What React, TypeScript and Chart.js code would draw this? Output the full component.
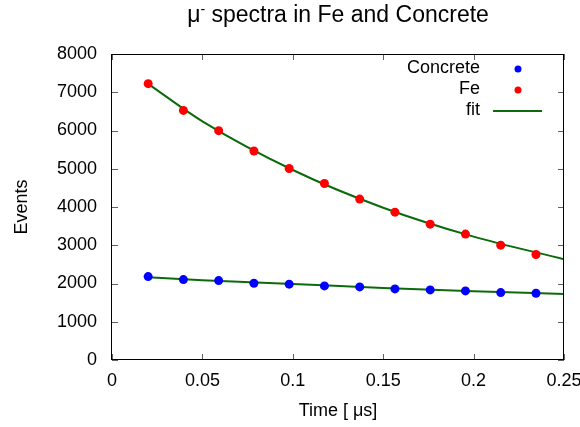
import React, { useEffect, useRef } from "react";
import { Chart, registerables } from "chart.js";

Chart.register(...registerables);

// ---- data ----
const times = [0.02, 0.0395, 0.059, 0.0785, 0.098, 0.1175, 0.137, 0.1565, 0.176, 0.1955, 0.215, 0.2345];
const concreteEvents = [2181, 2102, 2076, 2008, 1982, 1937, 1911, 1859, 1832, 1806, 1762, 1745];
const feEvents = [7225, 6526, 5995, 5463, 5008, 4615, 4207, 3866, 3552, 3291, 3003, 2757];
const fitTimes = [0.02, 0.05, 0.1, 0.15, 0.2, 0.25];
const feFit = [7220, 6240, 4968, 3982, 3225, 2636];
const concreteFit = [2165, 2085, 1985, 1885, 1800, 1728];
const xTicks = [0, 0.05, 0.1, 0.15, 0.2, 0.25];
const yTicks = [0, 1000, 2000, 3000, 4000, 5000, 6000, 7000, 8000];
const legendLabels = ["Concrete", "Fe", "fit"];

const FONT = "'Liberation Sans', Arial, Helvetica, sans-serif";
const BLUE = "#0000ff";
const RED = "#ff0000";
const GREEN = "#0b6b0b";

const toXY = (xs: number[], ys: number[]) => xs.map((x, i) => ({ x, y: ys[i] }));

const decorPlugin = {
  id: "decor",
  afterDatasetsDraw(chart: any) {
    const { ctx, chartArea: a, scales } = chart;
    const xs = scales.x;
    const ys = scales.y;
    ctx.save();
    // inward ticks
    ctx.strokeStyle = "#606060";
    ctx.lineWidth = 1;
    const tl = 6;
    ctx.beginPath();
    yTicks.forEach((v) => {
      const p = Math.round(ys.getPixelForValue(v)) + 0.5;
      ctx.moveTo(a.left, p);
      ctx.lineTo(a.left + tl, p);
      ctx.moveTo(a.right, p);
      ctx.lineTo(a.right - tl, p);
    });
    xTicks.forEach((v) => {
      const p = Math.round(xs.getPixelForValue(v)) + 0.5;
      ctx.moveTo(p, a.bottom);
      ctx.lineTo(p, a.bottom - tl);
      ctx.moveTo(p, a.top);
      ctx.lineTo(p, a.top + tl);
    });
    ctx.stroke();
    // frame
    ctx.strokeStyle = "#000";
    ctx.lineWidth = 1;
    ctx.strokeRect(Math.round(a.left) - 0.5, Math.round(a.top) + 0.5, Math.round(a.right - a.left), Math.round(a.bottom - a.top) - 1);

    // title
    const cx = (a.left + a.right) / 2;
    const bigFont = `23px ${FONT}`;
    const supFont = `14px ${FONT}`;
    ctx.fillStyle = "#000";
    ctx.textBaseline = "alphabetic";
    ctx.textAlign = "left";
    ctx.font = bigFont;
    const mu = "\u03bc";
    const rest = " spectra in Fe and Concrete";
    const wMu = ctx.measureText(mu).width;
    const wRest = ctx.measureText(rest).width;
    ctx.font = supFont;
    const wSup = ctx.measureText("-").width;
    const total = wMu + wSup + wRest;
    let tx = cx - total / 2;
    const ty = 22;
    ctx.font = bigFont;
    ctx.fillText(mu, tx, ty);
    tx += wMu;
    ctx.font = supFont;
    ctx.fillText("-", tx, ty - 8);
    tx += wSup;
    ctx.font = bigFont;
    ctx.fillText(rest, tx, ty);

    // axis titles
    ctx.font = `18px ${FONT}`;
    ctx.textAlign = "center";
    ctx.fillText("Time [ \u03bcs]", cx, 416);
    ctx.save();
    ctx.translate(27, (a.top + a.bottom) / 2);
    ctx.rotate(-Math.PI / 2);
    ctx.fillText("Events", 0, 0);
    ctx.restore();

    // legend
    ctx.font = `18px ${FONT}`;
    ctx.textAlign = "right";
    const textRight = a.right - 84;
    const sampleX = a.right - 46;
    const rowBase = [73, 94, 115];
    const colors = [BLUE, RED];
    legendLabels.forEach((lab, i) => {
      ctx.fillStyle = "#000";
      ctx.fillText(lab, textRight, rowBase[i]);
      if (i < 2) {
        ctx.fillStyle = colors[i];
        ctx.beginPath();
        ctx.arc(sampleX, rowBase[i] - 4, 3.5, 0, Math.PI * 2);
        ctx.fill();
      } else {
        ctx.strokeStyle = GREEN;
        ctx.lineWidth = 2;
        ctx.beginPath();
        ctx.moveTo(a.right - 71, rowBase[i] - 4);
        ctx.lineTo(a.right - 22, rowBase[i] - 4);
        ctx.stroke();
      }
    });
    ctx.restore();
  },
};

export default function App() {
  const ref = useRef<HTMLCanvasElement | null>(null);
  useEffect(() => {
    if (!ref.current) return;
    const chart = new Chart(ref.current, {
      type: "scatter",
      data: {
        datasets: [
          {
            label: "Concrete",
            data: toXY(times, concreteEvents),
            backgroundColor: BLUE,
            borderColor: BLUE,
            pointRadius: 4.5,
            pointBorderWidth: 0,
            showLine: false,
          },
          {
            label: "Fe",
            data: toXY(times, feEvents),
            backgroundColor: RED,
            borderColor: RED,
            pointRadius: 4.5,
            pointBorderWidth: 0,
            showLine: false,
          },
          {
            label: "fit",
            data: toXY(fitTimes, feFit),
            borderColor: GREEN,
            borderWidth: 2,
            pointRadius: 0,
            showLine: true,
            cubicInterpolationMode: "monotone",
          },
          {
            label: "fit2",
            data: toXY(fitTimes, concreteFit),
            borderColor: GREEN,
            borderWidth: 2,
            pointRadius: 0,
            showLine: true,
            cubicInterpolationMode: "monotone",
          },
        ],
      } as any,
      options: {
        animation: false,
        responsive: true,
        maintainAspectRatio: false,
        layout: { padding: { top: 54, right: 16, left: 0, bottom: 0 } },
        plugins: {
          legend: { display: false },
          title: { display: false },
          tooltip: { enabled: false },
        },
        scales: {
          x: {
            type: "linear",
            min: 0,
            max: 0.25,
            grid: { display: false, drawTicks: false },
            border: { display: false },
            ticks: {
              stepSize: 0.05,
              maxRotation: 0,
              autoSkip: false,
              padding: 10,
              color: "#000",
              font: { size: 18, family: FONT },
              callback: (v: any) => String(parseFloat(Number(v).toFixed(4))),
            },
            afterFit: (s: any) => {
              s.height = 67;
              s.paddingLeft = 0;
              s.paddingRight = 0;
            },
          },
          y: {
            type: "linear",
            min: 0,
            max: 8000,
            grid: { display: false, drawTicks: false },
            border: { display: false },
            ticks: {
              stepSize: 1000,
              padding: 15,
              color: "#000",
              font: { size: 18, family: FONT },
              callback: (v: any) => String(v),
            },
            afterFit: (s: any) => {
              s.width = 112;
              s.paddingTop = 0;
              s.paddingBottom = 0;
            },
          },
        },
      } as any,
      plugins: [decorPlugin],
    });
    return () => chart.destroy();
  }, []);
  return (
    <div style={{ position: "fixed", left: 0, top: 0, width: 580, height: 427, background: "#fff" }}>
      <canvas ref={ref} />
    </div>
  );
}
